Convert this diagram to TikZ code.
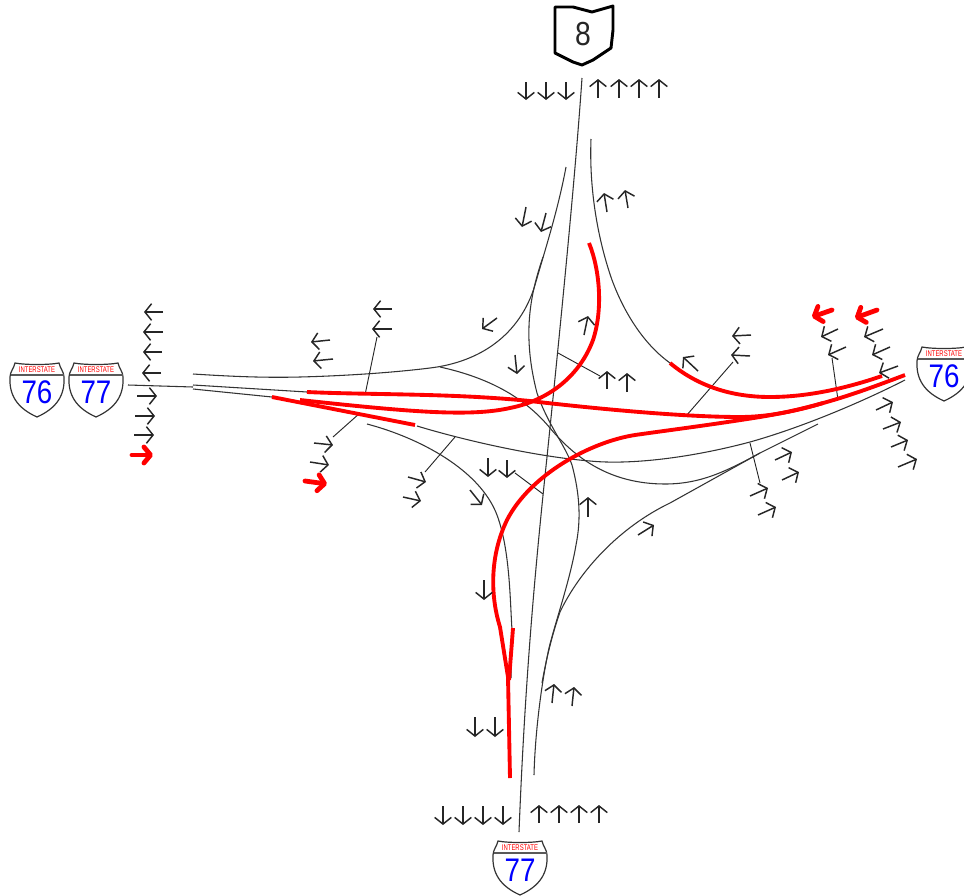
\documentclass[tikz,border=0pt]{standalone}
\usepackage{fontspec}
\setmainfont{Liberation Sans}
\newfontfamily\shieldfont[FakeStretch=0.85]{Liberation Sans}
\newfontfamily\bannerfont[FakeStretch=0.72]{Liberation Sans}
\usetikzlibrary{arrows.meta}

\tikzset{
  road/.style={line width=0.8pt, black!80},
  leader/.style={line width=0.7pt, black!85},
  redroad/.style={line width=2.9pt, red},
  lane/.style={line width=1.1pt, black!85, -{Straight Barb[length=5pt, width=12.5pt, line width=1.1pt]}},
  redlane/.style={line width=3.6pt, red, line cap=round, -{Straight Barb[length=5pt, width=12pt, line width=3.6pt, round]}},
  usshield/.pic={
    \draw[line width=0.9pt, black!80, fill=white]
      (-22,-27) .. controls (-12,-25) and (12,-25) .. (22,-27)
      .. controls (23,-22) and (27,-18) .. (27,-13)
      .. controls (28,5) and (20,18) .. (0,27)
      .. controls (-20,18) and (-28,5) .. (-27,-13)
      .. controls (-27,-18) and (-23,-22) .. (-22,-27) -- cycle;
    \draw[line width=0.8pt, black!65] (-26.5,-15) -- (26.5,-15);
    \node[red, font=\bannerfont\fontsize{6.2pt}{6.2pt}\selectfont, inner sep=0pt] (banner) at (0,-20) {INTERSTATE};
    \node[blue, font=\shieldfont\fontsize{24.5pt}{24.5pt}\selectfont, inner sep=0pt] (num) at (0,2) {#1};
  }
}

\begin{document}
\begin{tikzpicture}[x=0.75pt, y=-0.75pt]
  \useasboundingbox (0,0) rectangle (964,896);
  \clip (0,0) rectangle (964,896);

  % thin roads
  \draw[road] (582,78) .. controls (575,180) and (560,330) .. (547,457) .. controls (535,570) and (525,680) .. (519,832);
  \draw[road] (591,139) .. controls (589,190) and (598,240) .. (612,280) .. controls (625,315) and (645,345) .. (670,363);
  \draw[road] (566,167) .. controls (558,210) and (545,250) .. (535,285) .. controls (520,335) and (480,362) .. (430,368) .. controls (390,373) and (340,376) .. (300,377) .. controls (260,378) and (225,376) .. (193,374);
  \draw[road] (543,257) .. controls (530,295) and (522,335) .. (537,393) .. controls (548,425) and (565,445) .. (572,465) .. controls (580,495) and (581,520) .. (576,545) .. controls (570,580) and (556,620) .. (549,648) .. controls (541,685) and (535,735) .. (534,775);
  \draw[road] (440,367) .. controls (490,378) and (525,398) .. (550,428) .. controls (575,458) and (610,484) .. (665,484) .. controls (700,484) and (725,472) .. (760,453) -- (818,424);
  \draw[road] (367,424) .. controls (420,438) and (480,470) .. (497,515) .. controls (510,550) and (510,600) .. (512,630) -- (511,678);
  \draw[road] (417,426) .. controls (470,442) and (540,457) .. (590,461) .. controls (630,465) and (690,458) .. (750,442) .. controls (800,428) and (860,403) .. (905,380);
  \draw[road] (760,453) -- (670,503) .. controls (620,527) and (580,570) .. (560,612) .. controls (552,635) and (546,660) .. (542,683);
  \draw[road] (128,385) -- (193,387);
  \draw[road] (193,385) -- (307,392);
  \draw[road] (193,389) -- (272,397);

  % lines out to the lane arrows
  \foreach \ax/\ay/\bx/\by in {333/437/360/413, 377/337/365/395, 558/353/600/376, 515/473/543/494,
      425/472/455/437, 733/362/686/416, 832/358/838/400, 760/483/750/443}
    \draw[leader] (\ax,\ay) -- (\bx,\by);

  % red roads
  \draw[redroad] (670,363) .. controls (700,388) and (735,397) .. (770,397) .. controls (810,397) and (850,387) .. (882,376);
  \draw[redroad] (307,392) .. controls (370,395) and (450,393) .. (530,401) .. controls (590,408) and (680,417) .. (740,417) .. controls (770,417) and (800,410) .. (823,403);
  \draw[redroad] (589,243) .. controls (600,270) and (603,310) .. (593,340) .. controls (580,375) and (550,400) .. (510,408) .. controls (470,417) and (410,412) .. (300,400);
  \draw[redroad] (272,397) -- (415,425);
  \draw[redroad] (905,375) .. controls (860,392) and (820,407) .. (760,417) .. controls (710,425) and (670,430) .. (635,435) .. controls (590,442) and (530,475) .. (507,520) .. controls (490,555) and (490,595) .. (500,627) -- (508,677) -- (510,778);
  \draw[redroad] (513,628) -- (509,680);

  % lane arrows, tail then tip
  \foreach \ax/\ay/\bx/\by in {
      526/82/526/100, 546/82/546/100, 566/82/566/100,
      598/98/598/79, 619/98/619/79, 639/98/639/79, 659/98/659/79,
      526/207/522/227, 546/213/541/232, 607/212/604/193, 628/208/625/190,
      163/312/144/312, 163/332/143/332, 162/352/143/352, 161/373/142/373,
      137/396/157/396, 135/416/155/416, 134/435/154/435,
      330/340/311/342, 333/359/313/361,
      314/443/333/445, 310/462/329/465,
      392/309/373/309, 392/329/372/329,
      497/318/482/329, 515/355/517/374, 584/335/588/316, 607/389/607/371, 627/392/627/373,
      488/458/488/477, 507/460/507/478, 470/490/482/505,
      408/477/426/482, 403/497/421/501, 588/517/588/497, 638/535/654/525,
      484/580/484/600, 475/717/475/737, 495/717/495/737,
      552/703/554/684, 572/706/574/687,
      443/806/443/825, 463/806/463/825, 483/806/483/825, 503/806/503/825,
      539/823/539/805, 559/823/559/805, 579/823/579/805, 599/823/599/805,
      751/335/732/336, 750/356/731/355, 698/371/683/357,
      838/329/821/337, 846/347/828/355, 883/329/864/337, 890/347/872/355, 898/366/879/373,
      876/410/893/402, 883/429/901/422, 891/447/908/440, 898/467/917/459,
      775/460/792/452, 782/480/799/472, 750/496/768/488, 758/515/776/507}
    \draw[lane] (\ax,\ay) -- (\bx,\by);

  % added red lanes
  \foreach \ax/\ay/\bx/\by in {132/455/153/455, 305/481/327/484, 832/310/812/317, 877/310/855/318}
    \draw[redlane] (\ax,\ay) -- (\bx,\by);

  % route shields
  \pic (lefta) at (37,390) {usshield=76};
  \pic (leftb) at (96,390) {usshield=77};
  \pic (righta) at (944,374) {usshield=76};
  \pic (bottom) at (520,868) {usshield=77};

  \draw[line width=2.2pt, black, line join=round] (555,7) -- (573,7) -- (592,12) -- (613,6) -- (613,30) -- (611,48) -- (593,60) -- (582,65) -- (573,62) -- (555,53) -- cycle;
  \node[font=\shieldfont\fontsize{25pt}{25pt}\selectfont, inner sep=0pt, black!85] (ohio) at (583,34) {8};
\end{tikzpicture}
\end{document}
